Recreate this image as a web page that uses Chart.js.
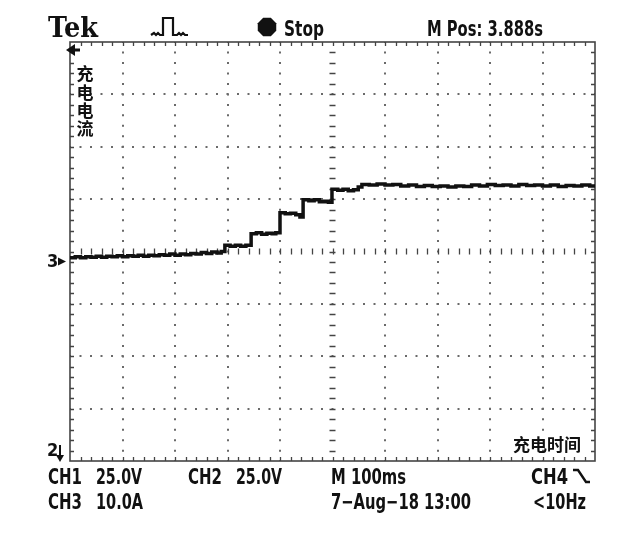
<!DOCTYPE html>
<html>
<head>
<meta charset="utf-8">
<script src="https://cdn.jsdelivr.net/npm/chart.js@4.4.1/dist/chart.umd.min.js"></script>
<style>
  html,body{margin:0;padding:0;background:#fff;}
  canvas{display:block;}
</style>
</head>
<body>
<canvas id="scope" width="640" height="534"></canvas>
<script>
// time axis in ms (M 100ms per division, 10 divisions)
const X_TICKS = [0,100,200,300,400,500,600,700,800,900,1000];
// vertical axis in divisions (CH3 10.0A/div), 8 divisions
const Y_TICKS = [-4,-3,-2,-1,0,1,2,3,4];
const CH3_GROUND = -0.19;

// CH3 charging current trace
const TIME_MS = [
  0,10,20,30,40,50,60,70,80,90,100,110,120,130,140,150,160,170,180,190,
  200,210,220,230,240,250,260,270,280,288,
  295,305,315,325,335,
  345,355,365,375,385,392,
  400,410,420,430,438,
  444,455,465,475,485,492,
  499,510,520,530,540,549,
  556,570,585,600,615,630,645,660,675,690,705,720,735,750,765,780,795,
  810,825,840,855,870,885,900,915,930,945,960,975,990,1000
];
const CH3_DIV = [
  -0.12,-0.10,-0.12,-0.10,-0.11,-0.09,-0.11,-0.09,-0.10,-0.08,-0.10,-0.08,-0.09,-0.07,-0.09,-0.07,-0.08,-0.06,-0.07,-0.05,
  -0.07,-0.05,-0.06,-0.04,-0.05,-0.02,-0.04,-0.01,-0.03,0.00,
  0.12,0.10,0.12,0.10,0.12,
  0.34,0.36,0.33,0.35,0.34,0.36,
  0.74,0.72,0.73,0.70,0.66,
  0.99,0.97,0.99,0.95,0.96,0.94,
  1.19,1.17,1.19,1.16,1.18,1.23,
  1.28,1.27,1.29,1.27,1.28,1.25,1.27,1.24,1.26,1.24,1.25,1.23,1.25,1.24,1.27,1.25,1.28,
  1.26,1.27,1.25,1.28,1.26,1.27,1.25,1.27,1.24,1.26,1.25,1.27,1.25,1.26
];

const FONT = '"DejaVu Sans Condensed","DejaVu Sans",sans-serif';
const CJK = '"Noto Sans CJK SC",sans-serif';

const scopeDecor = {
  id:'scopeDecor',
  beforeDatasetsDraw(chart){
    const {ctx, chartArea:a, scales:{x,y}} = chart;
    ctx.save();
    ctx.strokeStyle = '#444';
    ctx.lineWidth = 1.6;
    ctx.strokeRect(a.left, a.top, a.right-a.left, a.bottom-a.top);
    ctx.lineWidth = 1.3;
    ctx.beginPath();
    const xc = x.getPixelForValue(500), yc = y.getPixelForValue(0);
    for(let v=20; v<1000; v+=20){
      const px = Math.round(x.getPixelForValue(v))+0.5;
      ctx.moveTo(px, a.top); ctx.lineTo(px, a.top+4);
      ctx.moveTo(px, a.bottom); ctx.lineTo(px, a.bottom-4);
      ctx.moveTo(px, yc-3); ctx.lineTo(px, yc+3);
    }
    for(let i=1; i<40; i++){
      const py = Math.round(y.getPixelForValue(-4+i*0.2))+0.5;
      ctx.moveTo(a.left, py); ctx.lineTo(a.left+4, py);
      ctx.moveTo(a.right, py); ctx.lineTo(a.right-4, py);
      ctx.moveTo(xc-3, py); ctx.lineTo(xc+3, py);
    }
    ctx.stroke();
    ctx.restore();
  },
  afterDraw(chart){
    const {ctx, scales:{y}} = chart;
    ctx.save();
    ctx.fillStyle = '#111';
    ctx.strokeStyle = '#111';
    ctx.textBaseline = 'alphabetic';
    // header
    ctx.font = 'bold 27px "DejaVu Serif",serif';
    ctx.fillText('Tek', 48, 37, 50);
    ctx.lineWidth = 2.2;
    ctx.beginPath();
    ctx.moveTo(151,35); ctx.lineTo(154,33); ctx.lineTo(156,35); ctx.lineTo(158,33); ctx.lineTo(160,35);
    ctx.lineTo(163,35); ctx.lineTo(163,18); ctx.lineTo(173,18); ctx.lineTo(173,35);
    ctx.lineTo(177,35); ctx.lineTo(179,33); ctx.lineTo(181,35); ctx.lineTo(183,33); ctx.lineTo(185,35); ctx.lineTo(188,35);
    ctx.stroke();
    ctx.beginPath();
    for(let k=0;k<8;k++){
      const ang = Math.PI/8 + k*Math.PI/4;
      ctx.lineTo(267+10*Math.cos(ang), 27+10*Math.sin(ang));
    }
    ctx.closePath(); ctx.fill();
    ctx.font = 'bold 21px '+FONT;
    ctx.fillText('Stop', 284, 36, 40);
    ctx.fillText('M Pos: 3.888s', 427, 36, 116);
    // footer
    ctx.fillText('CH1', 48, 484, 34);
    ctx.fillText('25.0V', 96, 484, 46);
    ctx.fillText('CH2', 188, 484, 34);
    ctx.fillText('25.0V', 236, 484, 46);
    ctx.fillText('M 100ms', 331, 484, 75);
    ctx.fillText('CH4', 531, 484, 37);
    ctx.fillText('CH3', 48, 509, 34);
    ctx.fillText('10.0A', 96, 509, 47);
    ctx.fillText('7\u2212Aug\u221218 13:00', 331, 509, 140);
    ctx.fillText('<10Hz', 533, 509, 53);
    ctx.lineWidth = 2.4;
    ctx.beginPath();
    ctx.moveTo(573,470); ctx.lineTo(578,470); ctx.lineTo(586,482); ctx.lineTo(590,482);
    ctx.stroke();
    // channel markers
    ctx.font = 'bold 18px '+FONT;
    const gy = y.getPixelForValue(CH3_GROUND);
    ctx.fillText('3', 47, gy+6);
    ctx.beginPath(); ctx.moveTo(58,gy-4); ctx.lineTo(66,gy); ctx.lineTo(58,gy+4); ctx.closePath(); ctx.fill();
    ctx.fillText('2', 47, 456);
    ctx.lineWidth = 2;
    ctx.beginPath(); ctx.moveTo(60,445); ctx.lineTo(60,457); ctx.stroke();
    ctx.beginPath(); ctx.moveTo(56,455); ctx.lineTo(64,455); ctx.lineTo(60,462); ctx.closePath(); ctx.fill();
    // trigger position arrow
    ctx.beginPath(); ctx.moveTo(66,50); ctx.lineTo(75,44); ctx.lineTo(75,56); ctx.closePath(); ctx.fill();
    ctx.lineWidth = 3;
    ctx.beginPath(); ctx.moveTo(72,50); ctx.lineTo(80,50); ctx.stroke();
    // labels
    ctx.font = 'bold 17px '+CJK;
    ctx.textAlign = 'center';
    ctx.textBaseline = 'middle';
    ['充','电','电','流'].forEach((c,i)=>ctx.fillText(c, 85, 74+i*18.3));
    ctx.textAlign = 'left';
    ctx.fillText('充电时间', 513, 445, 70);
    ctx.restore();
  }
};

new Chart(document.getElementById('scope'),{
  type:'line',
  data:{datasets:[{
    label:'CH3',
    data:TIME_MS.map((t,i)=>({x:t,y:CH3_DIV[i]})),
    stepped:'before',
    borderColor:'#111',
    borderWidth:3.5,
    pointRadius:0,
    fill:false
  }]},
  options:{
    responsive:false,
    animation:false,
    layout:{padding:{left:70,top:42,right:45,bottom:73}},
    plugins:{legend:{display:false},tooltip:{enabled:false}},
    scales:{
      x:{type:'linear',min:0,max:1000,
        afterBuildTicks:s=>{s.ticks=X_TICKS.map(v=>({value:v}));},
        ticks:{display:false},
        grid:{drawTicks:false,lineWidth:2,color:c=>(c.tick.value===0||c.tick.value===1000||c.tick.value===500)?'rgba(0,0,0,0)':'#6a6a6a'},
        border:{display:false,dash:[2,8.48],dashOffset:1}},
      y:{min:-4,max:4,
        afterBuildTicks:s=>{s.ticks=Y_TICKS.map(v=>({value:v}));},
        ticks:{display:false},
        grid:{drawTicks:false,lineWidth:2,color:c=>(Math.abs(c.tick.value)===4||c.tick.value===0)?'rgba(0,0,0,0)':'#6a6a6a'},
        border:{display:false,dash:[2,8.5],dashOffset:1}}
    }
  },
  plugins:[scopeDecor]
});
</script>
</body>
</html>
